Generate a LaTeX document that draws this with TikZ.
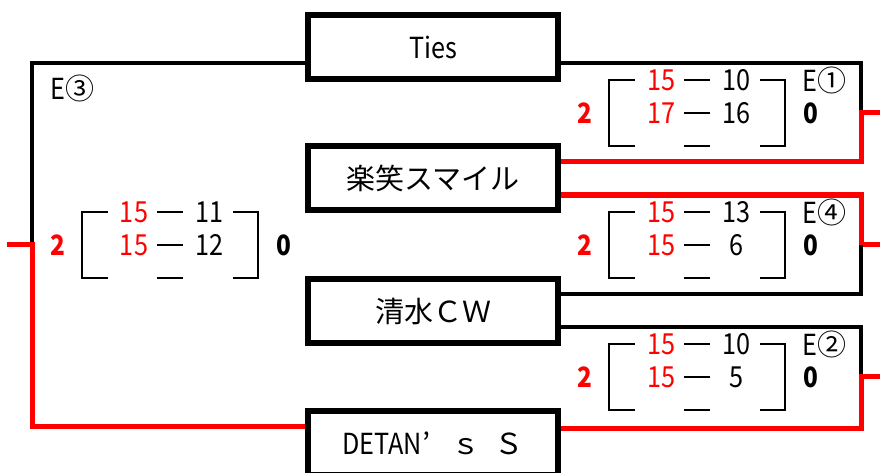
\documentclass[tikz,border=0pt]{standalone}
\usepackage{fontspec}
\setmainfont{Noto Sans CJK JP}
\newfontfamily\lat[FakeStretch=0.87]{Noto Sans CJK JP}
\usetikzlibrary{calc}
\definecolor{wred}{RGB}{255,0,0}
\tikzset{
 team/.style={draw, fill=white, line width=6pt, minimum width=250pt, minimum height=64pt,
   inner sep=0pt, outer sep=3pt, font=\fontsize{29}{29}\selectfont},
 blk/.style={line width=3.2pt},
 win/.style={draw=wred, line width=5pt},
 brk/.style={line width=2.8pt},
 sc/.style={inner sep=0pt, font=\lat\fontsize{29}{29}\selectfont},
 scw/.style={sc, text=wred},
 res/.style={inner sep=0pt, font=\lat\bfseries\fontsize{28}{28}\selectfont},
 resw/.style={res, text=wred},
 lbl/.style={inner sep=0pt, anchor=west, font=\fontsize{29}{29}\selectfont},
}
\newcommand\matchgrp[7]{%
 \draw[brk] (#2+26,#3) -- (#2,#3) -- (#2,#3+66) -- (#2+26,#3+66);
 \draw[brk] (#2+151,#3) -- (#2+176,#3) -- (#2+176,#3+66) -- (#2+151,#3+66);
 \foreach \dd in {0,33,66} \draw[brk] (#2+75,#3+\dd) -- (#2+101,#3+\dd);
 \node[scw] (#1a1) at (#2+52,#3) {#4};
 \node[sc]  (#1b1) at (#2+127,#3) {#5};
 \node[scw] (#1a2) at (#2+52,#3+33) {#6};
 \node[sc]  (#1b2) at (#2+127,#3+33) {#7};
 \node[resw] (#1w) at (#2-24,#3+33) {2};
 \node[res]  (#1l) at (#2+201.5,#3+33) {0};
}
\begin{document}
\begin{tikzpicture}[x=1pt,y=-1pt]
\useasboundingbox[fill=white] (0,0) rectangle (880,473);
% team boxes
\node[team] (ties)    at (433,47)  {\lat Ties};
\node[team] (egao)    at (433,178) {楽笑スマイル};
\node[team] (shimizu) at (433,311) {清水ＣＷ};
\node[team] (detan)   at (433,443) {{\lat DETAN}\makebox[1em][l]{’}ｓ\hspace{0.5em}Ｓ};
% junction coordinates
\coordinate (rA) at (861,113);
\coordinate (rB) at (861,244.5);
\coordinate (rC) at (861,376);
\coordinate (sA) at (882,113);
\coordinate (sB) at (882,244.5);
\coordinate (sC) at (882,376);
\coordinate (lA) at (32,244.5);
\coordinate (sL) at (7,244.5);
% right side connectors
\draw[blk] ([yshift=-16pt]ties.east) -| (rA);
\draw[win] (sA) -- (rA) |- ([yshift=16.5pt]egao.east);
\draw[win] ([yshift=-17pt]egao.east) -| (rB) -- (sB);
\draw[blk] (rB) |- ([yshift=17pt]shimizu.east);
\draw[blk] ([yshift=-16pt]shimizu.east) -| (rC);
\draw[win] (sC) -- (rC) |- ([yshift=15pt]detan.east);
% left side connectors
\draw[blk] ([yshift=-16pt]ties.west) -| (lA);
\draw[win] (sL) -- (lA) |- ([yshift=16.5pt]detan.west);
% score groups
\matchgrp{m3}{82}{212}{15}{11}{15}{12}
\matchgrp{m1}{609}{80}{15}{10}{17}{16}
\matchgrp{m4}{609}{212}{15}{13}{15}{6}
\matchgrp{m2}{609}{344}{15}{10}{15}{5}
% match labels
\node[lbl] (e3) at (50,88)  {{\lat E}③};
\node[lbl] (e1) at (802,80) {{\lat E}①};
\node[lbl] (e4) at (802,212) {{\lat E}④};
\node[lbl] (e2) at (802,344) {{\lat E}②};
\end{tikzpicture}
\end{document}
